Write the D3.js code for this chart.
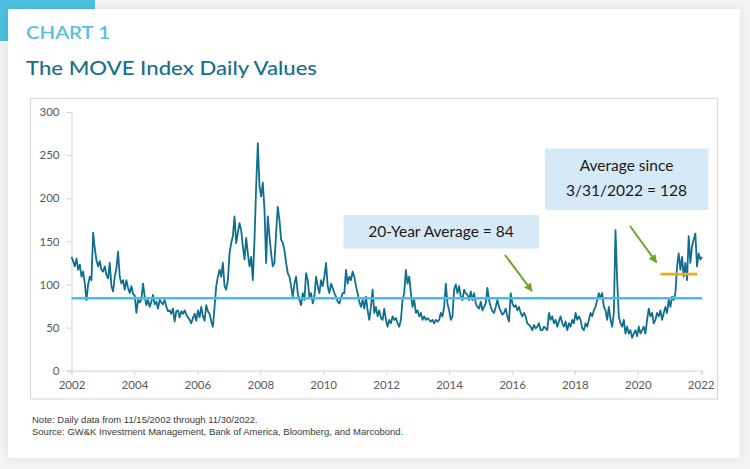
<!DOCTYPE html>
<html><head><meta charset="utf-8">
<script src="https://cdn.jsdelivr.net/npm/d3@7"></script>
<style>
html,body{margin:0;padding:0;background:#f3f3f3;}
svg{display:block;}
</style></head><body>
<svg id="chart" width="750" height="469"></svg>
<script>
// ---------------- data ----------------
const startDate = "2002-11-15";
const endDate = "2022-11-30";
// MOVE index readings, evenly spaced between startDate and endDate
const moveValues = [
132,127,121,130,117,123,109,115,101,82,
100,109,105,160,142,128,121,127,117,115,
121,111,107,125,98,92,109,119,138,109,
101,105,94,105,96,90,98,89,87,67,
82,79,83,101,86,76,82,74,80,88,
77,80,72,82,79,77,82,74,69,70,
66,72,57,69,70,62,69,66,70,65,
62,59,55,61,66,58,70,62,74,63,
58,76,69,66,57,51,74,98,109,117,
109,125,98,
94,105,136,148,156,179,148,160,171,163,
144,129,154,136,121,132,105,152,214,264,
214,202,218,187,125,179,156,136,121,125,
160,190,175,152,148,140,125,113,109,98,
86,101,109,90,82,76,90,82,113,105,
86,90,78,86,109,98,90,105,98,109,
125,98,90,101,96,90,86,80,78,84,
90,90,117,101,109,105,115,109,98,90,
80,74,82,72,86,70,59,74,94,67,
74,63,70,61,59,
72,59,51,59,55,63,59,61,55,51,
59,82,90,117,101,109,90,74,82,67,
70,63,67,59,63,59,61,59,57,59,
55,59,57,59,67,63,74,101,78,70,
59,63,94,100,90,98,86,82,94,90,
88,82,92,82,90,78,74,72,80,70,
74,78,96,82,74,69,67,74,82,74,
69,65,67,72,63,57,90,78,74,76,
70,74,67,63,67,63,55,53,51,47,
53,49,51,55,47,
47,51,49,47,67,59,63,55,59,51,
57,63,55,51,57,47,55,51,59,55,
67,59,63,59,49,47,55,51,59,67,
63,70,74,82,90,84,90,74,70,59,
74,59,51,67,163,105,63,55,51,59,
43,51,43,47,38,43,47,40,51,43,
47,51,43,59,72,63,67,55,59,67,
63,70,59,67,74,67,82,74,86,82,
90,121,136,117,132,109,125,105,156,125,
144,152,159,121,136,129,132
];
const twentyYearAverage = 84;
const recentAverage = 128;
const recentAvgMarker = [["2021-08-04", 112], ["2022-10-03", 112]];
const yTicks = [0, 50, 100, 150, 200, 250, 300];
const xTickLabels = ["2002","2004","2006","2008","2010","2012","2014","2016","2018","2020","2022"];

const chartLabel = "CHART 1";
const chartTitle = "The MOVE Index Daily Values";
const noteLines = [
  "Note: Daily data from 11/15/2002 through 11/30/2022.",
  "Source: GW&K Investment Management, Bank of America, Bloomberg, and Marcobond."
];
const box1Text = ["20-Year Average = " + twentyYearAverage];
const box2Text = ["Average since", "3/31/2022 = " + recentAverage];

// ---------------- drawing ----------------
const svg = d3.select("#chart");
const parse = d3.timeParse("%Y-%m-%d");
const t0 = parse(startDate), t1 = parse(endDate);
const idx = d3.scaleLinear().domain([0, moveValues.length - 1]).range([+t0, +t1]);
const series = moveValues.map((v, i) => ({ date: new Date(idx(i)), value: v }));

const x = d3.scaleTime().domain([t0, t1]).range([71.5, 702]);
const y = d3.scaleLinear().domain([0, 300]).range([370.7, 112]);

const defs = svg.append("defs");
const f = defs.append("filter").attr("id", "shadow").attr("x", "-5%").attr("y", "-5%").attr("width", "110%").attr("height", "110%");
f.append("feDropShadow").attr("dx", 0).attr("dy", 0).attr("stdDeviation", 4).attr("flood-color", "#000").attr("flood-opacity", 0.08);

const ah = defs.append("marker").attr("id", "arrow").attr("viewBox", "0 0 10 10")
  .attr("refX", 9).attr("refY", 5).attr("markerWidth", 4.2).attr("markerHeight", 4.2)
  .attr("markerUnits", "strokeWidth").attr("orient", "auto");
ah.append("path").attr("d", "M0,0 L10,5 L0,10 z").attr("fill", "#6fa528");

svg.append("rect").attr("width", 750).attr("height", 469).attr("fill", "#f3f3f3");
svg.append("rect").attr("x", 0).attr("y", 0).attr("width", 95).attr("height", 41).attr("fill", "#4dbfe0");
svg.append("rect").attr("x", 8).attr("y", 9).attr("width", 732).attr("height", 449)
  .attr("fill", "#fff").attr("filter", "url(#shadow)");
svg.append("rect").attr("x", 8).attr("y", 9).attr("width", 732).attr("height", 449).attr("fill", "#fff");

svg.append("text").attr("x", 26).attr("y", 38.5).text(chartLabel)
  .attr("font-family", "Lato, 'Open Sans', sans-serif").attr("font-size", 17.5).attr("font-weight", 600)
  .attr("textLength", 84).attr("lengthAdjust", "spacingAndGlyphs").attr("fill", "#55c1e0");
svg.append("text").attr("x", 26).attr("y", 74.5).text(chartTitle)
  .attr("font-family", "Lato, 'Open Sans', sans-serif").attr("font-size", 18.5).attr("font-weight", 500)
  .attr("textLength", 291).attr("lengthAdjust", "spacingAndGlyphs").attr("fill", "#17708d");

// chart frame
svg.append("rect").attr("x", 30.5).attr("y", 98.5).attr("width", 687).attr("height", 300.5)
  .attr("fill", "none").attr("stroke", "#d9d9d9").attr("stroke-width", 1.2);

// axes
const axisFont = "Lato, 'Open Sans', sans-serif";
const yAxis = svg.append("g").attr("transform", "translate(71.5,0)")
  .call(d3.axisLeft(y).tickValues(yTicks).tickSize(5).tickPadding(7).tickFormat(d3.format("d")));
const xTickDates = xTickLabels.map(l => new Date(+l, 10, 15));
const xAxis = svg.append("g").attr("transform", "translate(0,370.7)")
  .call(d3.axisBottom(x).tickValues(xTickDates).tickSize(4).tickPadding(6)
    .tickFormat((d, i) => xTickLabels[i]));
[yAxis, xAxis].forEach(g => {
  g.select(".domain").attr("stroke", "#d9d9d9").attr("stroke-width", 1.2);
  g.selectAll(".tick line").attr("stroke", "#d9d9d9").attr("stroke-width", 1.2);
  g.selectAll(".tick text").attr("fill", "#595959").attr("font-size", 11.5).attr("font-family", axisFont);
});

// data line
const line = d3.line().x(d => x(d.date)).y(d => y(d.value)).curve(d3.curveLinear);
svg.append("path").datum(series).attr("d", line)
  .attr("fill", "none").attr("stroke", "#0f6f8c").attr("stroke-width", 1.8).attr("stroke-linejoin", "round");

// 20-year average
svg.append("line").attr("x1", x(t0)).attr("x2", x(t1))
  .attr("y1", y(twentyYearAverage)).attr("y2", y(twentyYearAverage))
  .attr("stroke", "#45bfe3").attr("stroke-width", 2.6);

// recent average marker
const mk = recentAvgMarker.map(d => ({ date: parse(d[0]), value: d[1] }));
svg.append("path").datum(mk).attr("d", line).attr("fill", "none")
  .attr("stroke", "#f2a81d").attr("stroke-width", 2.8);

// annotation boxes
const annFont = "Lato, 'Open Sans', sans-serif";
svg.append("rect").attr("x", 343.5).attr("y", 215).attr("width", 195.5).attr("height", 33.5).attr("fill", "#d6e9f6");
svg.append("text").attr("x", 441).attr("y", 237).attr("text-anchor", "middle")
  .attr("font-family", annFont).attr("font-size", 15.5).attr("fill", "#1a1a1a").text(box1Text[0]);
svg.append("rect").attr("x", 545).attr("y", 148.5).attr("width", 163.5).attr("height", 61.5).attr("fill", "#d6e9f6");
box2Text.forEach((t, i) => {
  svg.append("text").attr("x", 626.5).attr("y", 171 + i * 24.5).attr("text-anchor", "middle")
    .attr("font-family", annFont).attr("font-size", 15.5).attr("fill", "#1a1a1a").text(t);
});

// arrows
[[505, 255, 532, 291], [630, 226, 656.5, 262.5]].forEach(a => {
  svg.append("line").attr("x1", a[0]).attr("y1", a[1]).attr("x2", a[2]).attr("y2", a[3])
    .attr("stroke", "#6fa528").attr("stroke-width", 2).attr("marker-end", "url(#arrow)");
});

// notes
noteLines.forEach((t, i) => {
  svg.append("text").attr("x", 32).attr("y", 423 + i * 12).text(t)
    .attr("font-family", "'Liberation Sans', Arial, sans-serif").attr("font-size", 9.5)
    .attr("fill", "#3a3a3a");
});
</script>
</body></html>
